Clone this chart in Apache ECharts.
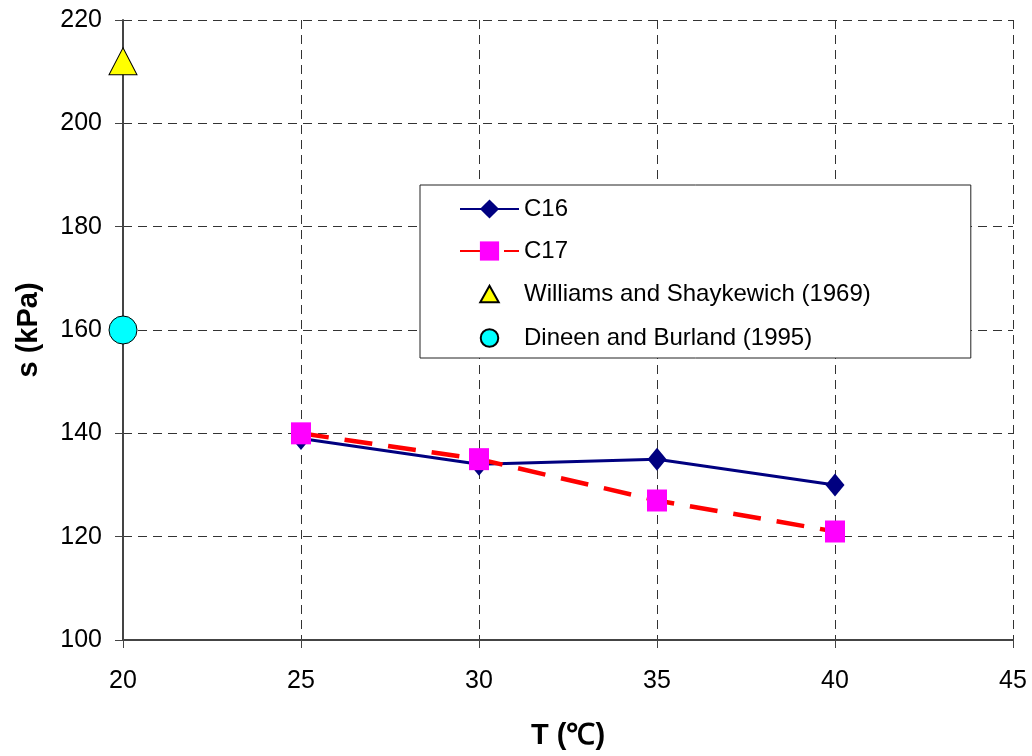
<!DOCTYPE html>
<html><head><meta charset="utf-8">
<script src="https://cdn.jsdelivr.net/npm/echarts@6/dist/echarts.min.js"></script>
<style>html,body{margin:0;padding:0;background:#fff}#c{width:1032px;height:756px}</style>
</head><body><div id="c"></div>
<script>
const temps = [25, 30, 35, 40];
const c16 = [139, 134, 135, 130];
const c17 = [140, 135, 127, 121];
const williamsT = [20];
const williamsS = [212];
const dineenT = [20];
const dineenS = [160];
const xTicks = [20, 25, 30, 35, 40, 45];
const yTicks = [100, 120, 140, 160, 180, 200, 220];
const names = ['C16', 'C17', 'Williams and Shaykewich (1969)', 'Dineen and Burland (1995)'];

const font = 'Liberation Sans, Arial, sans-serif';
const chart = echarts.init(document.getElementById('c'));
const pair = (xs, ys) => xs.map((x, i) => [x, ys[i]]);
chart.setOption({
  animation: false,
  textStyle: {fontFamily: font},
  grid: {left: 123, right: 19, top: 20, bottom: 116},
  xAxis: {
    type: 'value', min: xTicks[0], max: xTicks[xTicks.length - 1], interval: 5,
    name: 'T (℃)', nameLocation: 'middle', nameGap: 81,
    nameTextStyle: {fontSize: 29, fontWeight: 'bold', color: '#000', fontFamily: font},
    axisLine: {lineStyle: {color: '#444', width: 2}},
    axisTick: {show: true, length: 8, lineStyle: {color: '#444'}},
    axisLabel: {fontSize: 25, color: '#000', margin: 29, fontFamily: font},
    splitLine: {show: true, lineStyle: {color: '#333', type: [9, 6], width: 1}}
  },
  yAxis: {
    type: 'value', min: yTicks[0], max: yTicks[yTicks.length - 1], interval: 20,
    name: 's (kPa)', nameLocation: 'middle', nameGap: 80,
    nameTextStyle: {fontSize: 29, fontWeight: 'bold', color: '#000', fontFamily: font},
    axisLine: {show: true, lineStyle: {color: '#444', width: 2}},
    axisTick: {show: true, length: 8, lineStyle: {color: '#444'}},
    axisLabel: {fontSize: 25, color: '#000', margin: 21, fontFamily: font},
    splitLine: {show: true, lineStyle: {color: '#333', type: [9, 6], width: 1}}
  },
  legend: {
    orient: 'vertical', left: 420, top: 185,
    padding: [12, 100, 7, 39],
    itemWidth: 59, itemHeight: 24, itemGap: 18,
    backgroundColor: '#fff', borderColor: '#222', borderWidth: 1, borderRadius: 0,
    textStyle: {fontSize: 24, lineHeight: 24, color: '#000', fontFamily: font},
    data: [
      {name: names[0]},
      {name: names[1]},
      {name: names[2], icon: 'path://M-1.3,-1.3M1.3,1.3M0,-0.9L1,0.9L-1,0.9Z'},
      {name: names[3], icon: 'path://M-1.3,-1.3M1.3,1.3M0.95,0A0.95,0.95,0,1,1,-0.95,0A0.95,0.95,0,1,1,0.95,0Z'}
    ]
  },
  series: [
    {
      name: names[0], type: 'line', data: pair(temps, c16),
      symbol: 'diamond', symbolSize: [19, 23],
      lineStyle: {color: '#000080', width: 3},
      itemStyle: {color: '#000080'}, z: 3
    },
    {
      name: names[1], type: 'line', data: pair(temps, c17),
      symbol: 'rect', symbolSize: [20, 22],
      lineStyle: {color: '#ff0000', width: 4.5, type: [28, 16]},
      itemStyle: {color: '#ff00ff'}, z: 4
    },
    {
      name: names[2], type: 'scatter', data: pair(williamsT, williamsS),
      symbol: 'triangle', symbolSize: [28, 27],
      itemStyle: {color: '#ffff00', borderColor: '#000', borderWidth: 1, opacity: 1}, z: 5
    },
    {
      name: names[3], type: 'scatter', data: pair(dineenT, dineenS),
      symbol: 'circle', symbolSize: 28,
      itemStyle: {color: '#00ffff', borderColor: '#000', borderWidth: 1, opacity: 1}, z: 5
    }
  ]
});
</script></body></html>
